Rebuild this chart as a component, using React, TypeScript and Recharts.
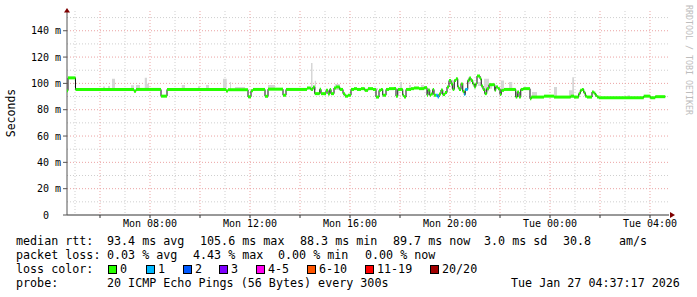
import React from 'react';
import { ComposedChart, Line, Area, XAxis, YAxis, CartesianGrid } from 'recharts';

// median rtt as [hour since Mon 00:00, ms] change points (step after)
const medianRtt: [number, number][] = [
  [4.68, 94.5], [4.72, 104.2], [5.02, 95.4], [7.36, 94.0], [7.44, 95.4], [8.44, 90.3], [8.68, 95.4],
  [11.04, 94.2], [11.12, 95.2], [11.92, 89.8], [12.04, 94.5], [12.12, 95.4], [12.6, 90.2], [12.72, 95.6],
  [13.32, 91.0], [13.44, 95.4], [14.28, 96.5], [14.43, 95.4], [14.52, 97.2], [14.59, 92.2], [14.79, 95.5],
  [14.84, 92.2], [15.04, 94.7], [15.12, 92.0], [15.19, 95.4], [15.24, 92.2], [15.36, 96.5], [15.44, 97.3],
  [15.59, 95.4], [15.72, 92.2], [15.8, 90.3], [15.92, 91.0], [16.04, 95.4], [16.16, 96.0], [16.28, 95.4],
  [16.44, 96.0], [16.59, 94.7], [16.72, 96.0], [16.92, 95.4], [17.04, 89.6], [17.16, 94.7], [17.24, 95.4],
  [17.31, 91.0], [17.44, 95.4], [17.56, 96.0], [17.76, 96.2], [17.84, 90.3], [17.91, 95.4], [18.11, 91.0],
  [18.16, 89.6], [18.24, 95.4], [18.44, 96.0], [18.56, 96.5], [18.76, 96.0], [18.97, 96.8], [19.08, 91.0],
  [19.12, 95.0], [19.19, 91.0], [19.24, 92.0], [19.31, 95.4], [19.36, 91.0], [19.44, 91.0], [19.51, 89.6],
  [19.56, 92.0], [19.64, 95.0], [19.71, 91.5], [19.8, 93.0], [19.88, 97.3], [19.96, 102.2], [20.04, 99.6],
  [20.11, 95.4], [20.17, 102.2], [20.24, 103.5], [20.31, 97.3], [20.36, 95.4], [20.44, 99.6], [20.51, 93.9],
  [20.57, 91.5], [20.61, 95.4], [20.71, 102.2], [20.77, 104.0], [20.84, 102.2], [20.91, 99.6], [20.97, 97.3],
  [21.03, 99.6], [21.08, 105.6], [21.2, 103.5], [21.25, 98.0], [21.32, 95.4], [21.39, 92.2], [21.47, 96.0],
  [21.56, 99.0], [21.79, 94.7], [21.83, 97.3], [21.92, 96.0], [22.0, 91.5], [22.05, 94.7], [22.16, 95.4],
  [22.63, 89.6], [22.69, 93.5], [22.76, 89.6], [22.83, 95.4], [22.93, 96.0], [23.2, 88.3], [23.25, 89.6],
  [23.76, 90.3], [24.16, 89.6], [24.83, 90.3], [24.96, 89.6], [25.15, 92.2], [25.21, 94.7], [25.28, 95.4],
  [25.35, 93.0], [25.41, 90.3], [25.48, 89.6], [25.68, 93.4], [25.75, 92.7], [25.81, 91.0], [25.88, 89.6],
  [25.95, 89.1], [27.75, 90.3], [28.01, 89.1], [28.21, 89.9], [28.61, 89.7],
];

// samples where 1 of 20 pings was lost
const lossOneHours = [19.44, 19.51, 20.57, 20.61];

// smoke (ping spread) as [start hour, end hour, low ms, high ms]
const smokeSpikes: [number, number, number, number][] = [
  [6.12, 6.2, 95, 97.7], [6.32, 6.4, 95, 98], [6.48, 6.6, 95, 103.5], [7.24, 7.36, 95, 98.5],
  [7.44, 7.6, 95, 98.8], [7.79, 7.88, 95, 104.3], [7.88, 7.96, 95, 99.7], [8.11, 8.28, 95, 96.5],
  [9.27, 9.4, 95, 98.8], [9.92, 10.0, 95, 97.8], [10.24, 10.36, 95, 98.8], [10.92, 11.07, 95, 103.5],
  [11.2, 11.24, 95, 101], [11.4, 11.8, 95, 97.3], [12.72, 13.0, 95, 98.8], [14.44, 14.5, 95, 115.5],
  [14.59, 14.64, 95, 102], [15.39, 15.59, 95, 99.6], [16.96, 17.12, 95, 96.5], [18.0, 18.08, 95, 101],
  [18.36, 18.44, 95, 98.8], [18.84, 18.96, 95, 98.8], [20.04, 20.12, 96, 102.7], [20.72, 20.84, 100, 104.7],
  [21.11, 21.24, 98, 101], [21.36, 21.56, 94, 103.5], [21.56, 21.68, 96, 99.6], [22.03, 22.16, 94, 102.2],
  [22.36, 22.49, 95, 101], [23.28, 23.48, 89, 93.5], [24.16, 24.28, 89, 97.3], [24.76, 24.89, 89, 94.7],
  [24.89, 24.96, 89, 104.7], [27.1, 27.2, 89, 90.9],
];

const timeTicks = [6, 8, 10, 12, 14, 16, 18, 20, 22, 24, 26, 28];
const timeLabels: Record<number, string> = {
  8: 'Mon 08:00', 12: 'Mon 12:00', 16: 'Mon 16:00', 20: 'Mon 20:00', 24: 'Tue 00:00', 28: 'Tue 04:00',
};
const rttTicks = [0, 20, 40, 60, 80, 100, 120, 140];
const minorRtt = [5, 10, 15, 25, 30, 35, 45, 50, 55, 65, 70, 75, 85, 90, 95, 105, 110, 115, 125, 130, 135, 145, 150];
const minorHours = [5, 7, 9, 11, 13, 15, 17, 19, 21, 23, 25, 27];

const rttStats = ['median rtt:', '93.4 ms avg', '105.6 ms max', '88.3 ms min', '89.7 ms now', '3.0 ms sd', '30.8', 'am/s'];
const lossStats = ['packet loss:', '0.03 % avg', '4.43 % max', '0.00 % min', '0.00 % now'];
const lossLabels = ['0', '1', '2', '3', '4-5', '6-10', '11-19', '20/20'];
const lossColors = ['#26ff00', '#00b8ff', '#0059ff', '#7e00ff', '#ff00ee', '#ff5500', '#ff0000', '#a10000'];
const probeText = ['probe:', '20 ICMP Echo Pings (56 Bytes) every 300s', 'Tue Jan 27 04:37:17 2026'];

const MONO = '"DejaVu Sans Mono", monospace';
const rttCols = [16, 107, 200, 300, 393, 484, 563, 619];
const lossCols = [16, 107, 193, 278, 365];
const boxCols = [108, 146, 183, 219, 256, 307, 365, 430];
const probeCols = [16, 107, 511];

const medianData = medianRtt.map(([t, rtt]) => ({ t, rtt, loss: lossOneHours.includes(t) ? 1 : 0 }));
const smokeData = smokeSpikes.flatMap(([a, b, lo, hi]) => [
  { t: a, band: [lo, hi] },
  { t: b, band: [lo, hi] },
  { t: b + 0.0001, band: null },
]);

const StepDot = (props: any) => {
  const { cx, cy, index, points, payload } = props;
  const next = points && points[index + 1];
  if (!next || cx == null || cy == null) return <g key={`s${index}`} />;
  return (
    <line key={`s${index}`} x1={cx} x2={next.x} y1={cy} y2={cy}
      stroke={lossColors[payload.loss]} strokeWidth={3} />
  );
};

const RttTick = (props: any) => {
  const { x, y, payload } = props;
  return (
    <text x={x} y={y} dy={3.5} textAnchor="end" fontFamily={MONO} fontSize={10} fill="#000"
      style={{ whiteSpace: 'pre' }}>
      {payload.value === 0 ? '0  ' : `${payload.value} m`}
    </text>
  );
};

const YArrow = (props: any) => {
  const { x, y, width, height } = props.viewBox;
  const ax = x + width;
  return (
    <g>
      <path d={`M${ax - 3},${y + 1.5} L${ax + 3},${y + 1.5} L${ax},${y - 3} Z`} fill="#7f0000" />
      <text transform={`translate(${x + 15},${y + height / 2}) rotate(-90)`} textAnchor="middle"
        fontFamily={MONO} fontSize={11.5} fill="#000">Seconds</text>
    </g>
  );
};

const XArrow = (props: any) => {
  const { x, y, width } = props.viewBox;
  const ax = x + width + 1;
  return <path d={`M${ax},${y - 3} L${ax},${y + 3} L${ax + 5},${y} Z`} fill="#7f0000" />;
};

const legendRow = (top: number): React.CSSProperties => ({
  position: 'absolute', top, fontFamily: MONO, fontSize: 11.7, lineHeight: '14px', whiteSpace: 'pre', color: '#000',
});

export default function App() {
  return (
    <div style={{ position: 'absolute', left: 0, top: 0, width: 697, height: 297, background: '#fff', overflow: 'hidden' }}>
      <ComposedChart width={697} height={297} margin={{ top: 11, right: 28, bottom: 0, left: 0 }}>
        <CartesianGrid horizontalValues={minorRtt} verticalValues={minorHours} stroke="#cfcfcf" strokeDasharray="1 2" />
        <CartesianGrid horizontalValues={rttTicks.slice(1)} verticalValues={timeTicks} stroke="#eba3a3" strokeDasharray="1 2" />
        <XAxis dataKey="t" type="number" domain={[4.68, 28.76]} ticks={timeTicks} height={82}
          allowDataOverflow tickFormatter={(v: number) => timeLabels[v] ?? ''}
          tick={{ fontFamily: MONO, fontSize: 10, fill: '#000' }} tickSize={3} tickMargin={2}
          stroke="#333" label={{ content: XArrow }} />
        <YAxis type="number" domain={[0, 155]} ticks={rttTicks} width={67} allowDataOverflow
          tick={<RttTick />} tickSize={4} tickMargin={2} stroke="#555" label={{ content: YArrow }} />
        <Area data={smokeData} dataKey="band" type="linear" fill="#d6d6d6" fillOpacity={1} stroke="none"
          isAnimationActive={false} connectNulls={false} />
        <Line data={medianData} dataKey="rtt" type="stepAfter" stroke="#111" strokeWidth={1} dot={false}
          isAnimationActive={false} />
        <Line data={medianData} dataKey="rtt" type="stepAfter" stroke="none" strokeWidth={0}
          dot={(p: any) => <StepDot {...p} key={p.key} />} activeDot={false} isAnimationActive={false} />
      </ComposedChart>

      <div style={{ position: 'absolute', left: 684, top: 5, writingMode: 'vertical-rl', fontFamily: MONO,
        fontSize: 8.3, color: '#bdbdbd', whiteSpace: 'pre', lineHeight: '10px' }}>RRDTOOL / TOBI OETIKER</div>

      {rttStats.map((s, i) => <div key={`r${i}`} style={{ ...legendRow(234), left: rttCols[i] }}>{s}</div>)}
      {lossStats.map((s, i) => <div key={`l${i}`} style={{ ...legendRow(248), left: lossCols[i] }}>{s}</div>)}
      <div style={{ ...legendRow(262), left: 16 }}>loss color:</div>
      {lossLabels.map((s, i) => (
        <React.Fragment key={`c${i}`}>
          <div style={{ position: 'absolute', left: boxCols[i], top: 265, width: 7, height: 7,
            background: lossColors[i], border: '1px solid #000' }} />
          <div style={{ ...legendRow(262), left: boxCols[i] + 12 }}>{s}</div>
        </React.Fragment>
      ))}
      {probeText.map((s, i) => <div key={`p${i}`} style={{ ...legendRow(276), left: probeCols[i] }}>{s}</div>)}
    </div>
  );
}
